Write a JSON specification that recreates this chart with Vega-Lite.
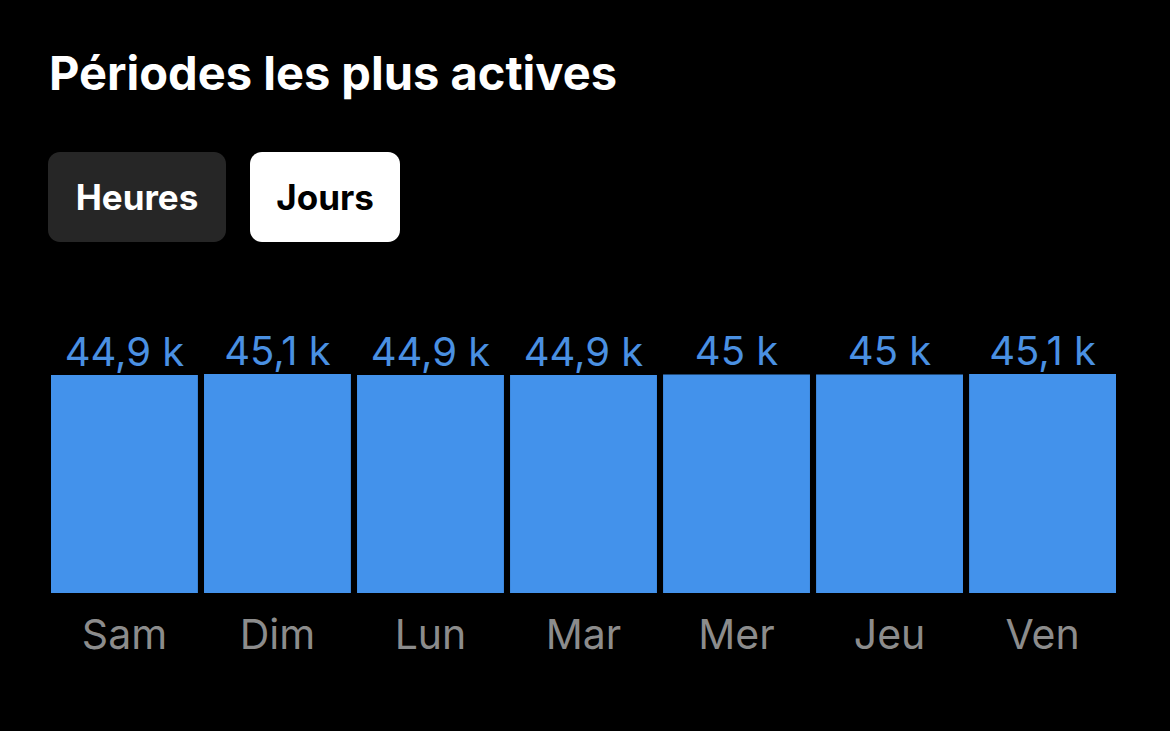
{
  "$schema": "https://vega.github.io/schema/vega-lite/v6.json",
  "background": "#000000",
  "padding": {"left": 48, "top": 52, "right": 54, "bottom": 82},
  "bounds": "flush",
  "spacing": 132,
  "title": {
    "text": "Périodes les plus actives",
    "anchor": "start",
    "font": "Inter",
    "fontSize": 47,
    "fontWeight": "bold",
    "color": "#ffffff",
    "offset": 52,
    "dx": 1
  },
  "config": {
    "view": {"stroke": null},
    "font": "Inter"
  },
  "vconcat": [
    {
      "width": 376,
      "height": 90,
      "data": {"values": [
        {"option": "Heures", "selected": false},
        {"option": "Jours", "selected": true}
      ]},
      "encoding": {
        "x": {"field": "option", "type": "nominal", "sort": null, "axis": null,
              "scale": {"paddingInner": 0, "paddingOuter": 0}}
      },
      "layer": [
        {
          "transform": [{"filter": "datum.option === 'Heures'"}],
          "mark": {"type": "bar", "width": 178, "cornerRadius": 12, "color": "#262626", "xOffset": -8}
        },
        {
          "transform": [{"filter": "datum.option === 'Jours'"}],
          "mark": {"type": "bar", "width": 150, "cornerRadius": 12, "color": "#ffffff", "xOffset": -8}
        },
        {
          "mark": {"type": "text", "font": "Inter", "fontSize": 35, "fontWeight": "bold", "xOffset": -8, "baseline": "middle", "dy": 2},
          "encoding": {
            "text": {"field": "option"},
            "color": {"field": "selected", "type": "nominal", "legend": null,
                      "scale": {"domain": [false, true], "range": ["#ffffff", "#000000"]}}
          }
        }
      ]
    },
    {
      "width": 1065,
      "height": 219,
      "data": {"values": [
        {"jour": "Sam", "actifs": 44900, "libelle": "44,9 k"},
        {"jour": "Dim", "actifs": 45100, "libelle": "45,1 k"},
        {"jour": "Lun", "actifs": 44900, "libelle": "44,9 k"},
        {"jour": "Mar", "actifs": 44900, "libelle": "44,9 k"},
        {"jour": "Mer", "actifs": 45000, "libelle": "45 k"},
        {"jour": "Jeu", "actifs": 45000, "libelle": "45 k"},
        {"jour": "Ven", "actifs": 45100, "libelle": "45,1 k"}
      ]},
      "encoding": {
        "x": {"field": "jour", "type": "nominal", "sort": null,
              "scale": {"paddingInner": 0.04, "paddingOuter": 0},
              "axis": {"title": null, "domain": false, "ticks": false, "labelAngle": 0,
                       "labelFont": "Inter", "labelFontSize": 41, "labelColor": "#8c8c8c",
                       "labelPadding": 23}},
        "y": {"field": "actifs", "type": "quantitative", "axis": null,
              "scale": {"domain": [0, 45100], "nice": false, "zero": true}}
      },
      "layer": [
        {"mark": {"type": "bar", "color": "#4392eb"}},
        {
          "mark": {"type": "text", "font": "Inter", "fontSize": 40, "color": "#4a90e2", "baseline": "alphabetic", "dy": -9},
          "encoding": {"text": {"field": "libelle"}}
        }
      ]
    }
  ]
}
